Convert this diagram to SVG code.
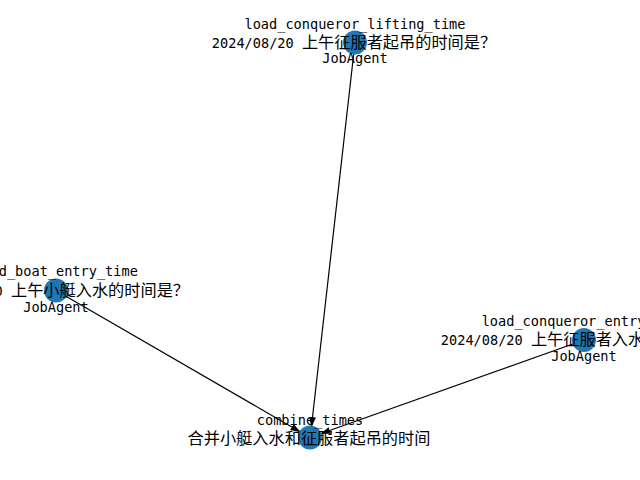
<svg xmlns="http://www.w3.org/2000/svg" width="640" height="480" viewBox="0 0 640 480">
<defs>
<style>
.edge{stroke:#000;stroke-width:1.2;fill:none}
.node{fill:#1f77b4}
.lbl{text-anchor:middle;fill:#000}
.m{font-family:"DejaVu Sans Mono","Liberation Mono",monospace;font-size:13.6px}
.c{font-family:"Noto Sans CJK SC","Noto Sans",sans-serif;font-size:16.2px}
</style>
<marker id="arr" viewBox="0 0 10 7" refX="10" refY="3.5" markerWidth="10" markerHeight="7" markerUnits="userSpaceOnUse" orient="auto">
<path d="M0,0 L10,3.5 L0,7 Z" fill="#000"/>
</marker>
</defs>
<rect width="640" height="480" fill="#fff"/>
<g id="edges">
<line class="edge" x1="355" y1="42.5" x2="311.4" y2="427" marker-end="url(#arr)"/>
<line class="edge" x1="56" y1="290.5" x2="300.5" y2="432" marker-end="url(#arr)"/>
<line class="edge" x1="584" y1="340" x2="320.4" y2="433.8" marker-end="url(#arr)"/>
</g>
<g id="load_conqueror_lifting_time">
<circle class="node" cx="355" cy="42.5" r="12"/>
<text class="lbl m" x="355" y="28.5">load_conqueror_lifting_time</text>
<text class="lbl" x="354" y="48"><tspan class="m">2024/08/20 </tspan><tspan class="c">上午征服者起吊的时间是？</tspan></text>
<text class="lbl m" x="355" y="62.5">JobAgent</text>
</g>
<g id="load_boat_entry_time">
<circle class="node" cx="56" cy="290.5" r="12"/>
<text class="lbl m" x="56" y="276">load_boat_entry_time</text>
<text class="lbl" x="55" y="295.5"><tspan class="m">2024/08/20 </tspan><tspan class="c">上午小艇入水的时间是？</tspan></text>
<text class="lbl m" x="56" y="311.5">JobAgent</text>
</g>
<g id="load_conqueror_entry_time">
<circle class="node" cx="584" cy="340" r="12"/>
<text class="lbl m" x="584" y="325.5">load_conqueror_entry_time</text>
<text class="lbl" x="583" y="345"><tspan class="m">2024/08/20 </tspan><tspan class="c">上午征服者入水的时间是？</tspan></text>
<text class="lbl m" x="584" y="361">JobAgent</text>
</g>
<g id="combine_times">
<circle class="node" cx="310" cy="437.5" r="12"/>
<text class="lbl m" x="310" y="425">combine_times</text>
<text class="lbl c" x="309" y="443.5">合并小艇入水和征服者起吊的时间</text>
</g>
</svg>
